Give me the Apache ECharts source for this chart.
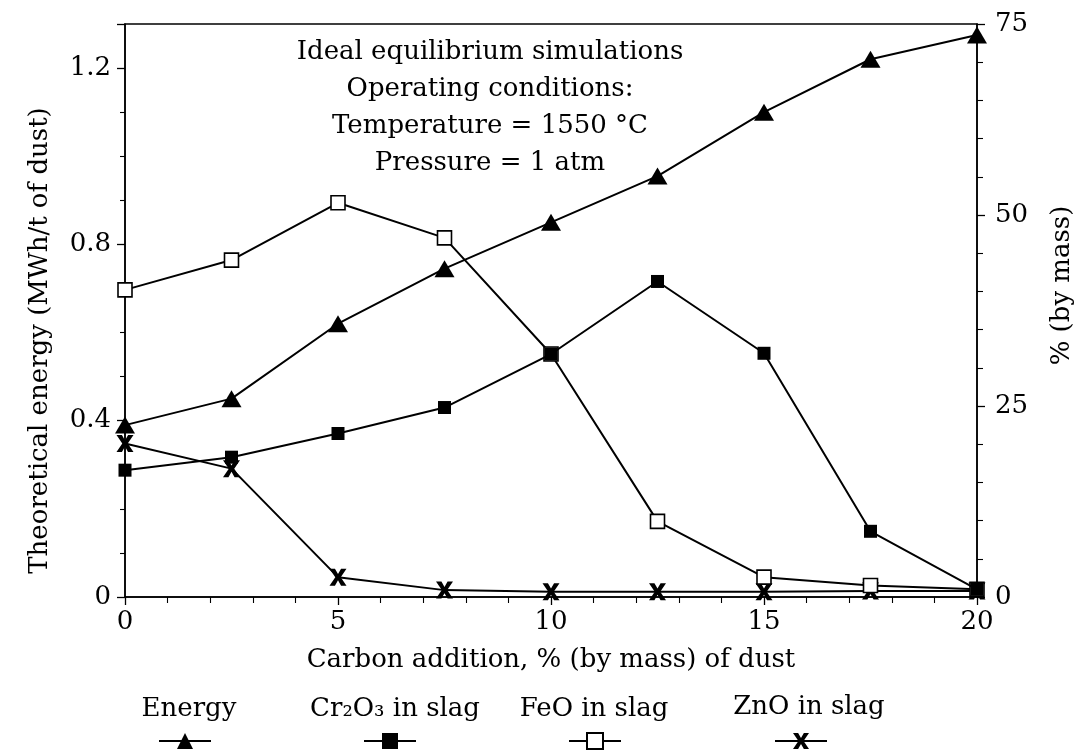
<!DOCTYPE html>
<html>
<head>
<meta charset="utf-8">
<script src="https://cdn.jsdelivr.net/npm/echarts@6/dist/echarts.min.js"></script>
<style>html,body{margin:0;padding:0;background:#fff}#c{width:1083px;height:753px}</style>
</head>
<body>
<div id="c"></div>
<script>
const carbon = [0, 2.5, 5, 7.5, 10, 12.5, 15, 17.5, 20];
const energy = [0.39, 0.45, 0.62, 0.745, 0.85, 0.955, 1.10, 1.22, 1.275];
const cr2o3 = [16.6, 18.3, 21.4, 24.8, 31.8, 41.3, 31.9, 8.6, 1.0];
const feo = [40.2, 44.1, 51.6, 47.0, 31.8, 9.9, 2.6, 1.5, 1.0];
const zno = [20.1, 16.8, 2.6, 0.9, 0.7, 0.7, 0.7, 0.8, 0.8];
const seriesNames = ['Energy', 'Cr₂O₃ in slag', 'FeO in slag', 'ZnO in slag'];
const noteLines = ['Ideal equilibrium simulations', 'Operating conditions:', 'Temperature = 1550 °C', 'Pressure = 1 atm'];

const FONT = 'DejaVu Serif';
const FS = 26;
const xShape = 'path://M0,0 L3.2,0 L5,3.2 L6.8,0 L10,0 L6.6,5 L10,10 L6.8,10 L5,6.8 L3.2,10 L0,10 L3.4,5 Z';
const pairs = ys => carbon.map((x, i) => [x, ys[i]]);

const chart = echarts.init(document.getElementById('c'), null, {renderer: 'canvas'});
const axisCommon = {
  axisLine: {show: true, lineStyle: {color: '#000', width: 1.5}},
  axisTick: {show: true, inside: false, length: 8, lineStyle: {color: '#000', width: 1.3}},
  minorTick: {show: true, length: 5, lineStyle: {color: '#000', width: 1.1}},
  splitLine: {show: false},
  axisLabel: {color: '#000', fontFamily: FONT, fontSize: FS},
  nameTextStyle: {color: '#000', fontFamily: FONT, fontSize: FS}
};
const legendBase = (name, cx) => ({
  data: [name], left: cx - 26, top: 731, itemWidth: 52, itemHeight: 20,
  formatter: () => '', selectedMode: false, padding: 0,
  textStyle: {fontSize: 1}
});
const lineSeries = (name, ys, yIdx, symbol, size, itemStyle, z) => ({
  name, type: 'line', yAxisIndex: yIdx, data: pairs(ys), symbol, symbolSize: size,
  showAllSymbol: true, z,
  lineStyle: {color: '#000', width: 2},
  itemStyle: itemStyle, emphasis: {disabled: true}
});

chart.setOption({
  animation: false,
  backgroundColor: '#fff',
  grid: {left: 125, right: 106, top: 24, bottom: 156, show: true, borderColor: '#000', borderWidth: 1.5, backgroundColor: 'transparent'},
  xAxis: Object.assign({}, axisCommon, {
    type: 'value', min: 0, max: 20, interval: 5,
    minorTick: {show: true, splitNumber: 5, length: 6, lineStyle: {color: '#000', width: 1.1}},
    axisLabel: Object.assign({}, axisCommon.axisLabel, {margin: 12}),
    name: 'Carbon addition, % (by mass) of dust', nameLocation: 'middle', nameGap: 50
  }),
  yAxis: [
    Object.assign({}, axisCommon, {
      type: 'value', min: 0, max: 1.3, interval: 0.4, position: 'left',
      minorTick: {show: true, splitNumber: 4, length: 5, lineStyle: {color: '#000', width: 1.1}},
      axisLabel: Object.assign({}, axisCommon.axisLabel, {margin: 14, showMaxLabel: false}),
      name: 'Theoretical energy (MWh/t of dust)', nameLocation: 'middle', nameGap: 72, nameRotate: 90,
      nameTextStyle: Object.assign({}, axisCommon.nameTextStyle, {padding: [0, 60, 0, 0]})
    }),
    Object.assign({}, axisCommon, {
      type: 'value', min: 0, max: 75, interval: 25, position: 'right',
      minorTick: {show: true, splitNumber: 5, length: 6, lineStyle: {color: '#000', width: 1.1}},
      axisLabel: Object.assign({}, axisCommon.axisLabel, {margin: 18}),
      name: '% (by mass)', nameLocation: 'middle', nameGap: 72, nameRotate: 90,
      nameTextStyle: Object.assign({}, axisCommon.nameTextStyle, {padding: [0, 0, 0, 50]})
    })
  ],
  legend: [
    legendBase(seriesNames[0], 184),
    legendBase(seriesNames[1], 389),
    legendBase(seriesNames[2], 594),
    legendBase(seriesNames[3], 800)
  ],
  graphic: [
    {type: 'text', x: 490, y: 34, silent: true, style: {text: noteLines.join('\n'), font: FS + 'px "' + FONT + '"', fill: '#000', align: 'center', verticalAlign: 'top', lineHeight: 37}},
    {type: 'text', x: 189, y: 709, silent: true, style: {text: seriesNames[0], font: FS + 'px "' + FONT + '"', fill: '#000', align: 'center', verticalAlign: 'middle'}},
    {type: 'text', x: 395, y: 709, silent: true, style: {text: seriesNames[1], font: FS + 'px "' + FONT + '"', fill: '#000', align: 'center', verticalAlign: 'middle'}},
    {type: 'text', x: 594, y: 709, silent: true, style: {text: seriesNames[2], font: FS + 'px "' + FONT + '"', fill: '#000', align: 'center', verticalAlign: 'middle'}},
    {type: 'text', x: 809, y: 707, silent: true, style: {text: seriesNames[3], font: FS + 'px "' + FONT + '"', fill: '#000', align: 'center', verticalAlign: 'middle'}}
  ],
  series: [
    lineSeries(seriesNames[3], zno, 1, xShape, 17, {color: '#000'}, 2),
    lineSeries(seriesNames[2], feo, 1, 'rect', 14, {color: '#fff', borderColor: '#000', borderWidth: 1.6}, 3),
    lineSeries(seriesNames[1], cr2o3, 1, 'rect', 13, {color: '#000'}, 4),
    lineSeries(seriesNames[0], energy, 0, 'triangle', [20, 17], {color: '#000'}, 5)
  ]
});
</script>
</body>
</html>
